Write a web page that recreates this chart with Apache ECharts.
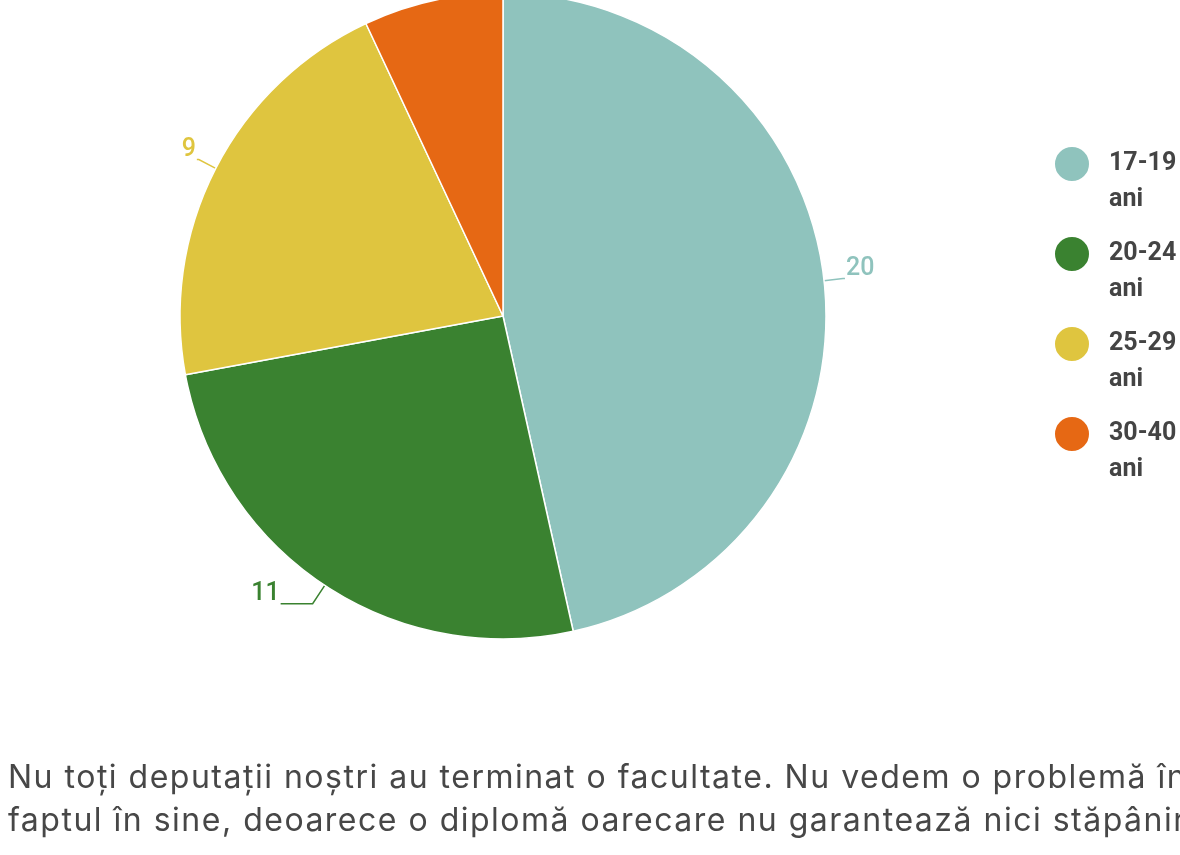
<!DOCTYPE html>
<html>
<head>
<meta charset="utf-8">
<script src="https://cdn.jsdelivr.net/npm/echarts@6/dist/echarts.min.js"></script>
<style>
  html, body { margin: 0; padding: 0; background: #fff; }
  body { width: 1180px; height: 855px; position: relative; overflow: hidden; }
  #chart { position: absolute; left: 0; top: 0; width: 1180px; height: 855px; }
  #note {
    position: absolute; left: 8px; top: 755px; margin: 0;
    width: 1400px; white-space: nowrap;
    font-family: Inter, "Open Sans", sans-serif; font-size: 32px; line-height: 43px;
    letter-spacing: 1.5px; color: #474747;
  }
</style>
</head>
<body>
<div id="chart"></div>
<p id="note">Nu toți deputații noștri au terminat o facultate. Nu vedem o problemă în<br>faptul în sine, deoarece o diplomă oarecare nu garantează nici stăpânirea</p>
<script>
const ageGroups = ["17-19 ani", "20-24 ani", "25-29 ani", "30-40 ani"];
const deputies = [20, 11, 9, 3];
const sliceColors = ["#8fc3bd", "#3a8230", "#dfc53f", "#e66814"];

// per-slice label tweaks: the green label sits further out, the orange one is off the top edge
const labelTweaks = {
  1: { labelLine: { length: 22, length2: 32 } },
  3: { label: { show: false }, labelLine: { show: false } },
};

const chart = echarts.init(document.getElementById("chart"));

chart.setOption({
  animation: false,
  color: sliceColors,
  legend: {
    orient: "vertical",
    left: 1053,
    top: 110,
    padding: 0,
    icon: "circle",
    itemWidth: 36,
    itemHeight: 36,
    itemGap: -18,
    selectedMode: false,
    // blank first line keeps the dot level with the range text
    formatter: (name) => "\n" + name.replace(" ", "\n"),
    textStyle: {
      fontFamily: "Roboto",
      fontWeight: "bold",
      fontSize: 25,
      lineHeight: 36,
      color: "#444444",
      padding: [0, 0, 0, 14],
    },
  },
  series: [
    {
      type: "pie",
      center: [503, 316],
      radius: 323,
      startAngle: 90,
      clockwise: true,
      data: ageGroups.map((name, i) => ({ name, value: deputies[i], ...(labelTweaks[i] || {}) })),
      itemStyle: { borderColor: "#ffffff", borderWidth: 1.5 },
      label: {
        show: true,
        position: "outside",
        // trailing blank line lifts the number above the end of its line
        formatter: "{c}\n ",
        lineHeight: 20,
        color: "inherit",
        fontFamily: "Roboto",
        fontWeight: 500,
        fontSize: 25,
        distanceToLabelLine: 1,
      },
      labelLine: {
        show: true,
        length: 19,
        length2: 2,
        lineStyle: { width: 1.5 },
      },
      emphasis: { disabled: true },
    },
  ],
});
</script>
</body>
</html>
